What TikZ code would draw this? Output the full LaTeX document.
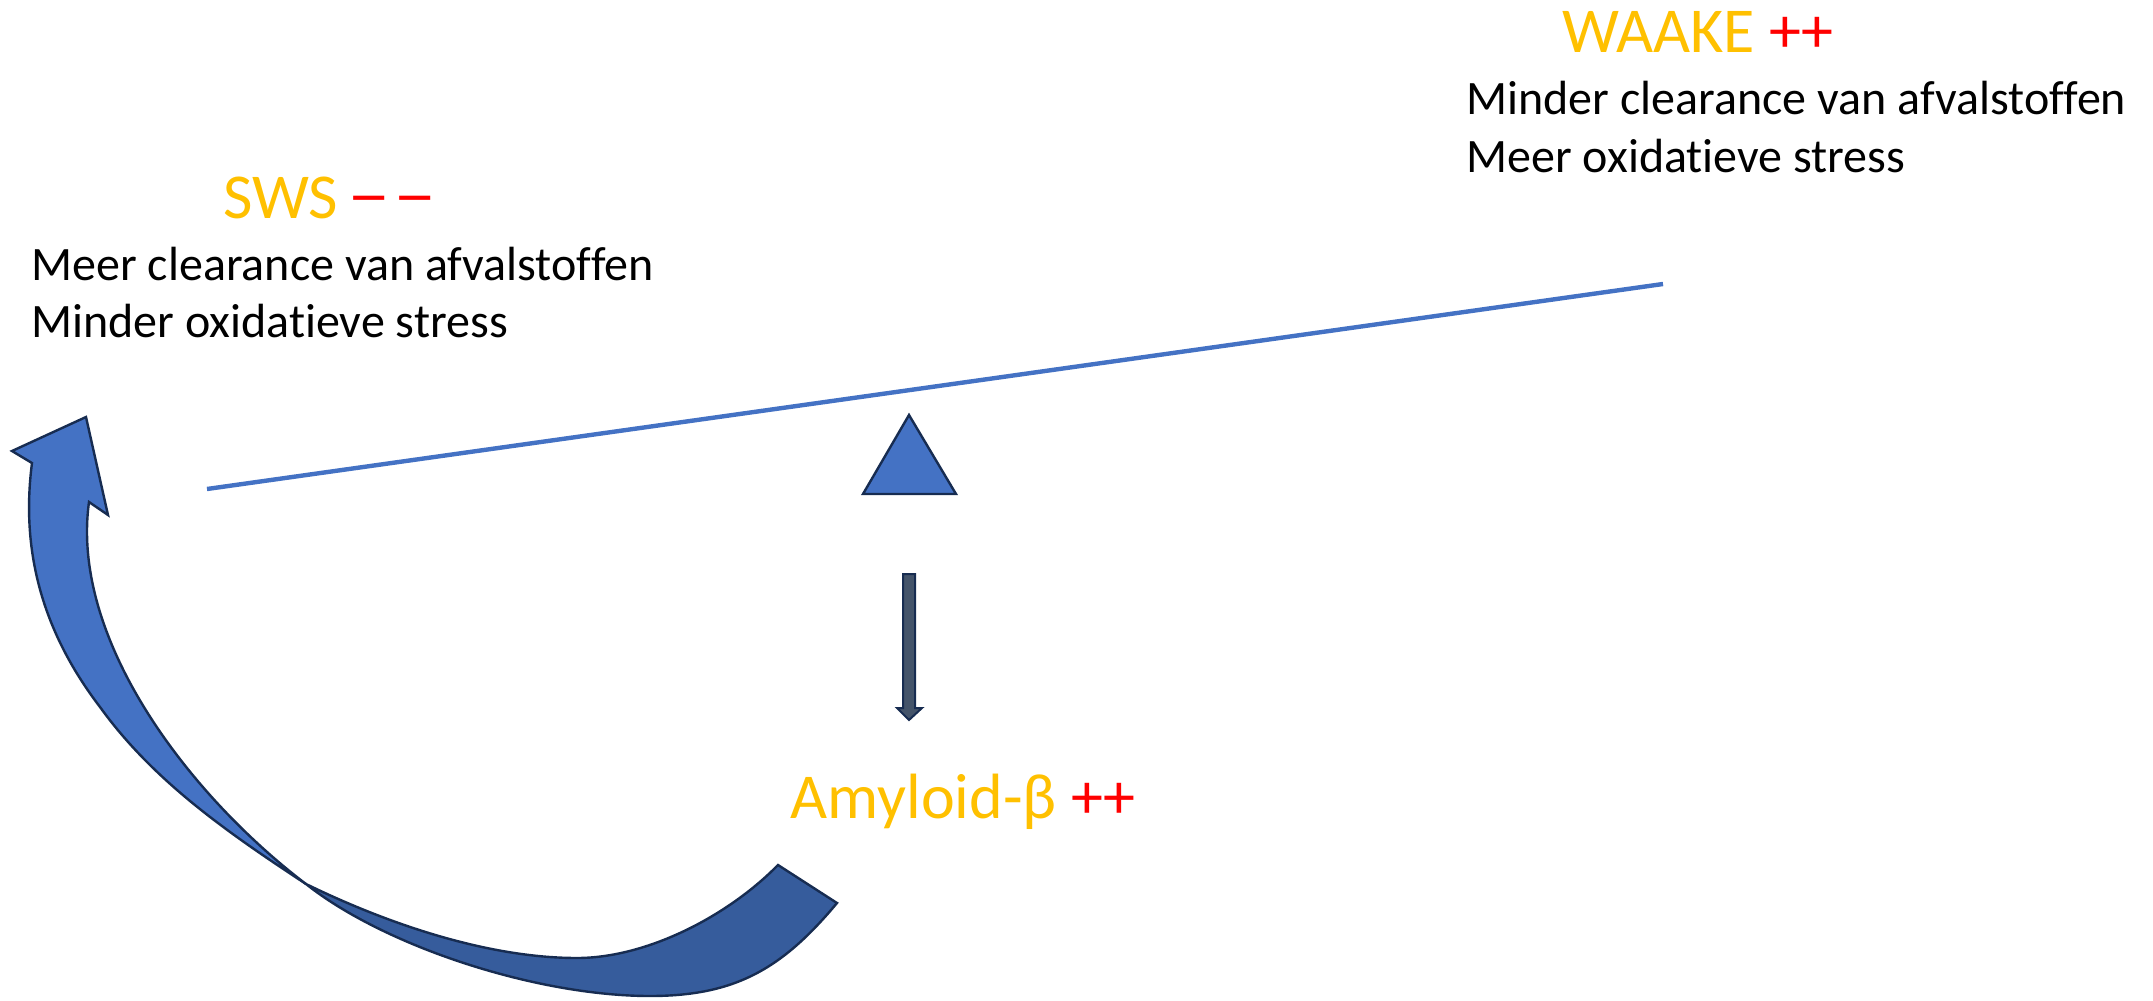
\documentclass[tikz,border=0pt]{standalone}
\usepackage{fontspec}
\setmainfont{Carlito}[Ligatures=NoCommon]
\definecolor{beamblue}{RGB}{68,114,196}
\definecolor{darkband}{RGB}{54,92,156}
\definecolor{navy}{RGB}{23,44,81}
\definecolor{slate}{RGB}{68,84,106}
\definecolor{gold}{RGB}{255,192,0}
\definecolor{plusred}{RGB}{255,0,0}
% a minus sign drawn a little longer, keeping its own advance width
\newcommand\longminus{\sbox0{−}\makebox[\wd0]{\scalebox{1.3}[1]{−}}}
\tikzset{
  heading/.style={inner sep=0pt, anchor=base west, text=gold,
    font=\fontsize{32pt}{38pt}\selectfont},
  bodytext/.style={inner sep=0pt, anchor=base west, text=black,
    font=\fontsize{24pt}{29pt}\selectfont},
  outline/.style={draw=navy, line width=1.2pt, line join=miter},
}
\begin{document}
\begin{tikzpicture}[x=0.5pt, y=-0.5pt]
\useasboundingbox (0,0) rectangle (2153,1001);

% headings and their effects
\node[heading] (sws) at (223,218) {SWS \textcolor{plusred}{\longminus\ \longminus}};
\node[bodytext] (sws1) at (31,280) {Meer clearance van afvalstoffen};
\node[bodytext] (sws2) at (31,337) {Minder oxidatieve stress};

\node[heading] (wake) at (1562,52) {WAAKE \textcolor{plusred}{++}};
\node[bodytext] (wake1) at (1466,114) {Minder clearance van afvalstoffen};
\node[bodytext] (wake2) at (1466,172) {Meer oxidatieve stress};

\node[heading] (abeta) at (790,818) {Amyloid-β \textcolor{plusred}{++}};

% the balance: tilted beam on a triangular pivot
\coordinate (beamL) at (207,489);
\coordinate (beamR) at (1663,284);
\draw[beamblue, line width=2.2pt] (beamL) -- (beamR);
\filldraw[fill=beamblue, outline] (909,415) -- (956,494) -- (863,494) -- cycle;

% small block arrow pointing down to amyloid
\filldraw[fill=slate, outline, line width=1pt]
  (903,574) -- (915,574) -- (915,708) -- (922,708) -- (909,720)
  -- (897,708) -- (903,708) -- cycle;

% curved feedback arrow, key points
\coordinate (twist) at (306,884);     % where the ribbon turns over
\coordinate (tailA) at (778,865);     % tail, upper corner
\coordinate (tailB) at (837,903);     % tail, lower corner
\coordinate (notchL) at (32,463);
\coordinate (barbL) at (12,451);
\coordinate (tip) at (86,417);
\coordinate (barbR) at (108,515);
\coordinate (notchR) at (89,502);

% lower (back) part of the ribbon
\filldraw[fill=darkband, outline]
  (twist) .. controls (388,924) and (488,958) .. (577,958)
          .. controls (647,958) and (728,916) .. (tailA)
  -- (tailB)
          .. controls (782,969) and (735,996) .. (650,996)
          .. controls (536,996) and (384,946) .. (twist)
  -- cycle;

% upper part of the ribbon with the arrowhead
\filldraw[fill=beamblue, outline]
  (twist) .. controls (230,834) and (154,782) .. (100,707)
          .. controls (45,635) and (20,555) .. (notchL)
  -- (barbL) -- (tip) -- (barbR) -- (notchR)
          .. controls (70,640) and (190,796) .. (twist)
  -- cycle;
\end{tikzpicture}
\end{document}
